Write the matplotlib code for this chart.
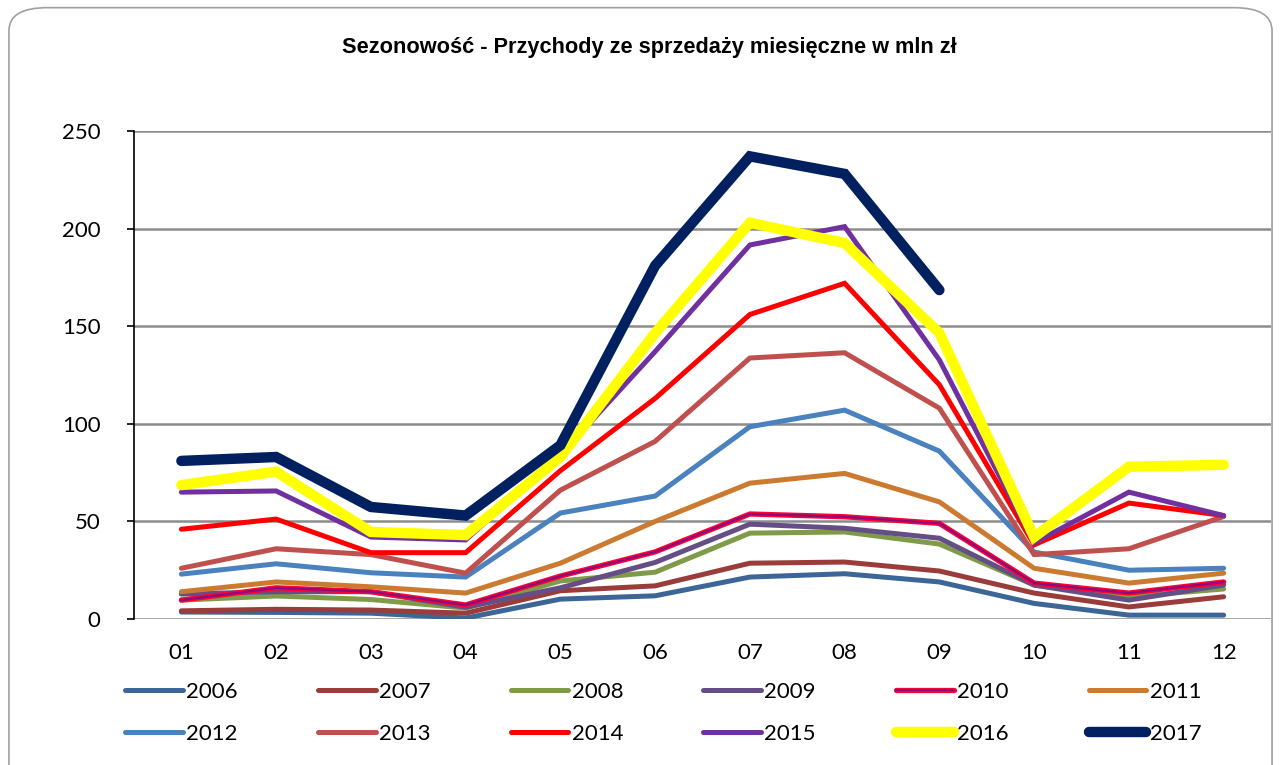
import matplotlib
matplotlib.use("Agg")
import matplotlib.pyplot as plt
import matplotlib.patheffects as pe
from matplotlib.patches import FancyBboxPatch

months = ["01", "02", "03", "04", "05", "06", "07", "08", "09", "10", "11", "12"]

y2006 = [3.6, 3.4, 3.0, 0.5, 10.2, 11.9, 21.5, 23.2, 19.0, 8.0, 2.0, 2.0]
y2007 = [4.2, 5.0, 4.6, 3.0, 14.5, 17.0, 28.6, 29.2, 24.6, 13.3, 6.2, 11.4]
y2008 = [9.7, 11.8, 10.0, 5.6, 19.5, 24.0, 44.0, 44.6, 38.4, 17.4, 11.4, 15.4]
y2009 = [12.8, 14.0, 14.0, 6.0, 16.0, 29.0, 48.6, 46.5, 41.4, 17.4, 9.7, 17.4]
y2010 = [9.7, 16.0, 14.0, 7.2, 22.0, 34.4, 53.8, 52.4, 49.0, 18.4, 13.3, 19.0]
y2011 = [14.0, 19.0, 16.5, 13.3, 28.6, 50.0, 69.6, 74.6, 60.0, 26.0, 18.4, 23.5]
y2012 = [23.0, 28.3, 23.7, 21.5, 54.3, 63.0, 98.5, 107.0, 86.0, 34.3, 25.0, 26.0]
y2013 = [26.0, 36.0, 33.0, 23.5, 66.0, 91.0, 133.7, 136.4, 108.0, 33.0, 36.0, 52.5]
y2014 = [46.0, 51.2, 34.0, 34.0, 76.0, 113.0, 156.0, 172.0, 120.0, 38.0, 59.4, 53.0]
y2015 = [65.0, 65.6, 42.0, 40.5, 84.0, 137.0, 191.6, 201.0, 132.7, 39.0, 65.0, 53.0]
y2016 = [68.6, 75.5, 44.6, 43.0, 83.0, 146.5, 203.0, 192.6, 146.5, 42.0, 78.0, 79.0]
y2017 = [81.0, 83.0, 57.4, 53.0, 89.0, 181.0, 237.0, 228.0, 168.5]

years = ["2006", "2007", "2008", "2009", "2010", "2011",
         "2012", "2013", "2014", "2015", "2016", "2017"]
series = [y2006, y2007, y2008, y2009, y2010, y2011,
          y2012, y2013, y2014, y2015, y2016, y2017]
colors = ["#3C6697", "#9A3C3A", "#7F9A48", "#654E85", "#8B0A7E", "#CC7A30",
          "#4A81BF", "#C0504D", "#FF0000", "#7030A0", "#FFFF00", "#002060"]
widths = [3.6, 3.6, 3.6, 3.6, 1.6, 3.6, 3.6, 3.6, 3.6, 3.6, 7.5, 7.5]

plt.rcParams['font.family'] = ['Lato', 'DejaVu Sans']

fig = plt.figure(figsize=(12.81, 7.65), dpi=100)
fig.patches.append(FancyBboxPatch((0.007, -0.05), 0.986, 1.04,
                                  boxstyle="round,pad=0,rounding_size=0.03",
                                  transform=fig.transFigure, fill=False,
                                  edgecolor="#A0A0A0", linewidth=1.2))
ax = fig.add_axes([0.1046, 0.1908, 0.8876, 0.638])

x = list(range(len(months)))
handles = []
for yr, vals, c, w in zip(years, series, colors, widths):
    line, = ax.plot(x[:len(vals)], vals, color=c, linewidth=w,
                    solid_capstyle="round", solid_joinstyle="miter", label=yr)
    if yr == "2010":
        line.set_path_effects([pe.Stroke(linewidth=3.8, foreground="#FF0033"),
                               pe.Normal()])
    handles.append(line)

ax.set_xlim(-0.5, 11.5)
ax.set_ylim(0, 250)
ax.set_yticks([0, 50, 100, 150, 200, 250])
ax.set_xticks(x)
ax.set_xticklabels(months)
ax.tick_params(axis="x", length=0, labelsize=16, pad=17)
ax.tick_params(axis="y", length=5, width=1.2, direction="out", labelsize=16, pad=19)
ax.yaxis.grid(True, color="#8C8C8C", linewidth=1.8)
ax.set_axisbelow(True)
for s in ["top", "right", "bottom"]:
    ax.spines[s].set_visible(False)
ax.spines["left"].set_linewidth(1.2)

fig.text(0.507, 1 - 47 / 765, "Sezonowość - Przychody ze sprzedaży miesięczne w mln zł",
         fontsize=15.7, fontweight="bold", ha="center", va="center",
         family=['Liberation Sans', 'DejaVu Sans'])

order = []
for i in range(6):
    order += [i, i + 6]
leg = fig.legend([handles[i] for i in order], [years[i] for i in order],
                 ncol=6, loc="upper left", bbox_to_anchor=(0.082, 0.135),
                 frameon=False, fontsize=16, handlelength=2.6,
                 handletextpad=0.15, columnspacing=3.6, labelspacing=1.0)

fig.savefig("out.png", dpi=100)
